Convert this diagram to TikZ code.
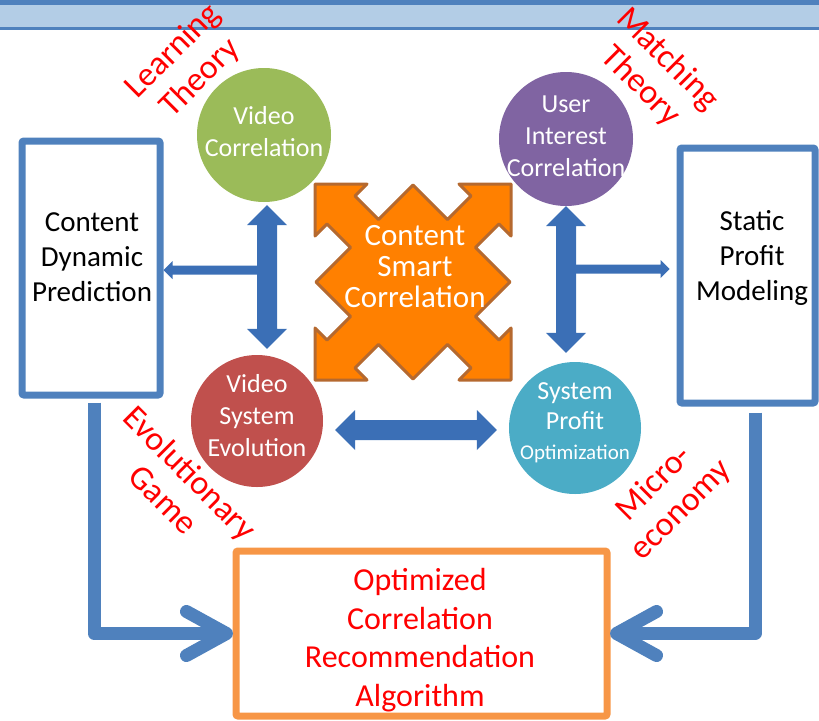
\documentclass[tikz,border=0pt]{standalone}
\usepackage{fontspec}
\setmainfont{Carlito}
\usetikzlibrary{calc}
\definecolor{bandDark}{HTML}{4F81BD}
\definecolor{bandLight}{HTML}{B3CDE6}
\definecolor{boxBlue}{HTML}{4F81BD}
\definecolor{boxOrange}{HTML}{F79646}
\definecolor{cGreen}{HTML}{9BBB59}
\definecolor{cPurple}{HTML}{8064A2}
\definecolor{cRed}{HTML}{C0504D}
\definecolor{cCyan}{HTML}{4BACC6}
\definecolor{crossFill}{HTML}{FF8000}
\definecolor{crossLine}{HTML}{B5692F}
\definecolor{arrBlue}{HTML}{3B6FB6}
\newcommand\DoubleBlueArrow[2]{%
  \fill[arrBlue] (#1) -- ($(#1)!20pt!(#2)!20pt!90:(#2)$) -- ($(#1)!20pt!(#2)!10pt!90:(#2)$)
   -- ($(#2)!20pt!(#1)!10pt!-90:(#1)$) -- ($(#2)!20pt!(#1)!20pt!-90:(#1)$) -- (#2)
   -- ($(#2)!20pt!(#1)!20pt!90:(#1)$) -- ($(#2)!20pt!(#1)!10pt!90:(#1)$)
   -- ($(#1)!20pt!(#2)!10pt!-90:(#2)$) -- ($(#1)!20pt!(#2)!20pt!-90:(#2)$) -- cycle;}
\newcommand\SingleBlueArrow[2]{%
  \fill[arrBlue] ($(#1)!4.5pt!90:(#2)$) -- ($(#2)!9pt!(#1)!4.5pt!-90:(#1)$)
   -- ($(#2)!9pt!(#1)!9pt!-90:(#1)$) -- (#2) -- ($(#2)!9pt!(#1)!9pt!90:(#1)$)
   -- ($(#2)!9pt!(#1)!4.5pt!90:(#1)$) -- ($(#1)!4.5pt!-90:(#2)$) -- cycle;}
\begin{document}
\begin{tikzpicture}[x=1pt,y=-1pt,
  bubble/.style={circle, inner sep=0pt},
  bubbletext/.style={text=white, align=center, font=\fontsize{26}{32}\selectfont},
  bigbox/.style={draw=boxBlue, line width=7pt, rounded corners=2pt, inner sep=0pt},
  boxtext/.style={align=center, text=black, font=\fontsize{29}{35}\selectfont},
  theory/.style={text=red, align=center, font=\fontsize{34}{38}\selectfont},
  crossbody/.style={fill=crossFill, draw=crossLine, line width=3pt, line join=round},
  lconn/.style={draw=boxBlue, line width=13pt, line join=round}]
\useasboundingbox (0,0) rectangle (819,720);
% top band
\fill[bandDark] (0,0) rectangle (819,30);
\fill[bandLight] (0,5) rectangle (819,27);

% boxes
\node[bigbox, minimum width=138pt, minimum height=254pt] (cdp) at (91,268) {};
\node[boxtext] (cdpt) at (92,257) {Content\\Dynamic\\Prediction};
\node[bigbox, minimum width=135pt, minimum height=255pt] (spm) at (747.5,275.5) {};
\node[boxtext] (spmt) at (752,258) {Static\\Profit\\Modeling};
\node[draw=boxOrange, line width=7pt, rounded corners=2pt, inner sep=0pt,
      minimum width=371pt, minimum height=165pt] (opt) at (421.5,633.5) {};
\node[text=red, align=center, font=\fontsize{32}{38.5}\selectfont] (optt) at (420,640)
  {Optimized\\Correlation\\Recommendation\\Algorithm};

% circles
\node[bubble, fill=cGreen, minimum size=134pt] (gc) at (264,135) {};
\node[bubbletext] (gct) at (264,132) {Video\\Correlation};
\node[bubble, fill=cPurple, minimum size=134pt] (uc) at (566,139) {};
\node[bubbletext] (uct) at (566,136) {User\\Interest\\Correlation};
\node[bubble, fill=cRed, minimum size=132pt] (ec) at (257,421) {};
\node[bubbletext] (ect) at (257,416) {Video\\System\\Evolution};
\node[bubble, fill=cCyan, minimum size=132pt] (sc) at (575,428) {};
\node[bubbletext, font=\fontsize{26}{30}\selectfont] (sct) at (575,423)
  {System\\Profit\\{\fontsize{21}{26}\selectfont Optimization}};

% central cross
\draw[crossbody, shift={(413,282)}]
  (0,-97) -- (-34.5,-62.5) -- (-58,-86) -- (-46,-98) -- (-98,-98) -- (-98,-46) -- (-86,-58) -- (-62.5,-34.5)
  -- (-97,0) -- (-62.5,34.5) -- (-86,58) -- (-98,46) -- (-98,98) -- (-46,98) -- (-58,86) -- (-34.5,62.5)
  -- (0,97) -- (34.5,62.5) -- (58,86) -- (46,98) -- (98,98) -- (98,46) -- (86,58) -- (62.5,34.5)
  -- (97,0) -- (62.5,-34.5) -- (86,-58) -- (98,-46) -- (98,-98) -- (46,-98) -- (58,-86) -- (34.5,-62.5) -- cycle;
\node[text=white, align=center, font=\fontsize{31}{31}\selectfont] (csc) at (415,267)
  {Content\\Smart\\Correlation};

% double arrows
\coordinate (la) at ([xshift=3pt,yshift=-3pt]gc.south);
\coordinate (lb) at ([xshift=10pt,yshift=6pt]ec.north);
\coordinate (ra) at (uc.south);
\coordinate (rb) at ([xshift=-9pt,yshift=9pt]sc.north);
\coordinate (ha) at ([xshift=12pt,yshift=-9pt]ec.east);
\coordinate (hb) at ([xshift=-12pt,yshift=-2pt]sc.west);
\DoubleBlueArrow{la}{lb}
\DoubleBlueArrow{ra}{rb}
\DoubleBlueArrow{ha}{hb}

% small arrows to boxes
\coordinate (lj) at (267,270);
\coordinate (ljt) at (cdp.east |- lj);
\SingleBlueArrow{lj}{ljt}
\coordinate (rj) at (563,269);
\coordinate (rjt) at ($(spm.west |- rj)+(-7,0)$);
\SingleBlueArrow{rj}{rjt}

% L connectors
\draw[lconn] ([xshift=3pt,yshift=-4pt]cdp.south) |- ($(opt.west)+(-6,0)$);
\draw[lconn, line cap=round] ($(opt.west)+(-46,-22)$) -- ($(opt.west)+(-6,0)$) -- ($(opt.west)+(-46,22)$);
\draw[lconn] ([xshift=7.5pt,yshift=-6pt]spm.south) |- ($(opt.east)+(6,0)$);
\draw[lconn, line cap=round] ($(opt.east)+(46,-22)$) -- ($(opt.east)+(6,0)$) -- ($(opt.east)+(46,22)$);

% theory labels
\node[theory, rotate=45] (lt) at (187,65) {Learning\\Theory};
\node[theory, rotate=-45] (mt) at (654,73) {Matching\\Theory};
\node[theory, rotate=-45] (eg) at (177,486) {Evolutionary\\Game};
\node[theory, rotate=45] (me) at (668,497) {Micro-\\economy};
\end{tikzpicture}
\end{document}
